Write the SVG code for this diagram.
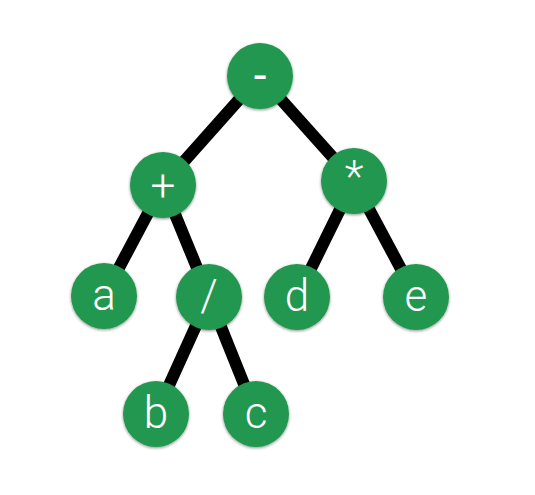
<svg xmlns="http://www.w3.org/2000/svg" width="535" height="495" viewBox="0 0 535 495">
<defs>
<filter id="sh" x="-20%" y="-20%" width="140%" height="140%">
<feGaussianBlur in="SourceAlpha" stdDeviation="1.5"/>
<feOffset dx="0" dy="1" result="b"/>
<feComponentTransfer><feFuncA type="linear" slope="0.45"/></feComponentTransfer>
<feMerge><feMergeNode/><feMergeNode in="SourceGraphic"/></feMerge>
</filter>
<style>
.e{stroke:#000;stroke-width:12;fill:none}
.n circle{fill:#239750;filter:url(#sh)}
.n text{fill:#fff;font-family:Roboto,"Open Sans","Liberation Sans",sans-serif;font-weight:300;font-size:44px;text-anchor:middle}
</style>
</defs>
<rect width="535" height="495" fill="#fff"/>
<g id="edges">
<line class="e" x1="260" y1="76" x2="163" y2="185"/>
<line class="e" x1="260" y1="76" x2="354" y2="181"/>
<line class="e" x1="163" y1="185" x2="104" y2="296"/>
<line class="e" x1="163" y1="185" x2="209" y2="297"/>
<line class="e" x1="354" y1="181" x2="297" y2="297"/>
<line class="e" x1="354" y1="181" x2="416" y2="297"/>
<line class="e" x1="209" y1="297" x2="156" y2="414"/>
<line class="e" x1="209" y1="297" x2="256" y2="414"/>
</g>
<g id="n-minus" class="n"><circle cx="260" cy="76" r="33"/><text x="260" y="91" style="font-weight:400;font-size:46px">-</text></g>
<g id="n-plus" class="n"><circle cx="163" cy="185" r="33"/><text x="163" y="201">+</text></g>
<g id="n-mul" class="n"><circle cx="354" cy="181" r="33"/><text x="354" y="192">*</text></g>
<g id="n-a" class="n"><circle cx="104" cy="296" r="33"/><text x="104" y="310">a</text></g>
<g id="n-div" class="n"><circle cx="209" cy="297" r="33"/><text x="209" y="311">/</text></g>
<g id="n-d" class="n"><circle cx="297" cy="297" r="33"/><text x="297" y="311">d</text></g>
<g id="n-e" class="n"><circle cx="416" cy="297" r="33"/><text x="416" y="311">e</text></g>
<g id="n-b" class="n"><circle cx="156" cy="414" r="33"/><text x="156" y="428">b</text></g>
<g id="n-c" class="n"><circle cx="256" cy="414" r="33"/><text x="256" y="428">c</text></g>
</svg>
